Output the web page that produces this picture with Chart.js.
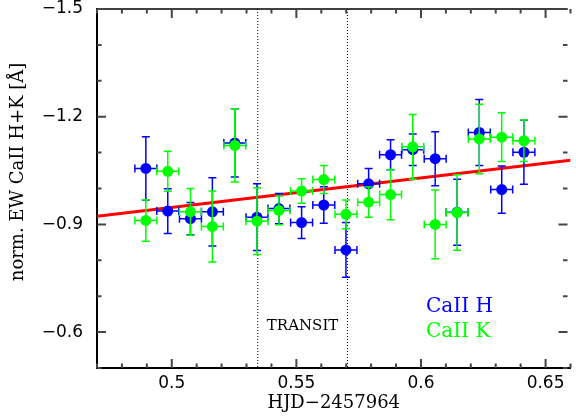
<!DOCTYPE html>
<html>
<head>
<meta charset="utf-8">
<script src="https://cdn.jsdelivr.net/npm/chart.js@4"></script>
<style>
  html, body { margin: 0; padding: 0; background: #fff; }
</style>
</head>
<body>
<canvas id="chart" width="576" height="418"></canvas>
<script>
// observation times (HJD - 2457964), shared by both lines
const times = [0.4896, 0.4984, 0.5075, 0.5163, 0.5253, 0.5342, 0.5430, 0.5521, 0.5610,
               0.5699, 0.5790, 0.5878, 0.5967, 0.6057, 0.6145, 0.6234, 0.6324, 0.6413];
const timeErr = 0.0044;

// CaII H
const ewH  = [-1.056, -0.937, -0.916, -0.935, -1.127, -0.920, -0.944, -0.905, -0.954,
              -0.829, -1.013, -1.094, -1.108, -1.083, -0.934, -1.156, -0.997, -1.101];
const errH = [0.088, 0.062, 0.045, 0.095, 0.095, 0.093, 0.042, 0.044, 0.051,
              0.076, 0.043, 0.042, 0.044, 0.075, 0.092, 0.092, 0.066, 0.089];

// CaII K
const ewK  = [-0.911, -1.048, -0.935, -0.894, -1.120, -0.909, -0.939, -0.993, -1.025,
              -0.928, -0.962, -0.983, -1.116, -0.900, -0.933, -1.138, -1.143, -1.133];
const errK = [0.058, 0.056, 0.065, 0.099, 0.102, 0.093, 0.040, 0.034, 0.039,
              0.040, 0.042, 0.070, 0.090, 0.096, 0.105, 0.097, 0.068, 0.058];

// linear fit
const fitX = [0.47, 0.66];
const fitY = [-0.923, -1.079];

// transit window
const transitStart = 0.5345;
const transitEnd = 0.5705;

const xRange = [0.47, 0.66];
const yRange = [-1.5, -0.5];

const toPoints = (xs, ys) => xs.map((x, i) => ({ x: x, y: ys[i] }));
const minus = v => (v < 0 ? '\u2212' : '') + Math.abs(v).toFixed(1);

// error bars are drawn just before each dataset's points
const errorBars = {
    id: 'errorBars',
    beforeDatasetDraw(chart, args) {
        const ds = chart.data.datasets[args.index];
        if (!ds.yErr) return;
        const ctx = chart.ctx;
        const sx = chart.scales.x, sy = chart.scales.y;
        const cap = 4;
        ctx.save();
        ctx.strokeStyle = ds.backgroundColor;
        ctx.lineWidth = 1.5;
        ds.data.forEach((p, i) => {
            const px = sx.getPixelForValue(p.x);
            const py = sy.getPixelForValue(p.y);
            const y1 = sy.getPixelForValue(p.y - ds.yErr[i]);
            const y2 = sy.getPixelForValue(p.y + ds.yErr[i]);
            const x1 = sx.getPixelForValue(p.x - ds.xErr);
            const x2 = sx.getPixelForValue(p.x + ds.xErr);
            ctx.beginPath();
            ctx.moveTo(px, y1); ctx.lineTo(px, y2);
            ctx.moveTo(px - cap, y1); ctx.lineTo(px + cap, y1);
            ctx.moveTo(px - cap, y2); ctx.lineTo(px + cap, y2);
            ctx.moveTo(x1, py); ctx.lineTo(x2, py);
            ctx.moveTo(x1, py - cap); ctx.lineTo(x1, py + cap);
            ctx.moveTo(x2, py - cap); ctx.lineTo(x2, py + cap);
            ctx.stroke();
        });
        ctx.restore();
    }
};

// inside tick marks on all sides, top frame line, free text
const frameTicks = {
    id: 'frameTicks',
    afterDraw(chart) {
        const ctx = chart.ctx;
        const a = chart.chartArea;
        const sx = chart.scales.x, sy = chart.scales.y;
        const rightEdge = a.right - 3;
        ctx.save();
        ctx.strokeStyle = '#000';
        ctx.lineWidth = 1.5;
        ctx.beginPath();
        ctx.moveTo(a.left, a.top);
        ctx.lineTo(rightEdge, a.top);
        ctx.stroke();

        ctx.strokeStyle = '#444';
        ctx.lineWidth = 2;
        ctx.beginPath();
        // x ticks every 0.01, long ones every 0.05
        for (let k = 47; k <= 66; k++) {
            const px = sx.getPixelForValue(k / 100);
            const len = k % 5 === 0 ? 9 : 4.5;
            ctx.moveTo(px, a.bottom);
            ctx.lineTo(px, a.bottom - len);
            ctx.moveTo(px, a.top);
            ctx.lineTo(px, a.top + len);
        }
        // y ticks every 0.1, long ones every 0.3
        for (let k = -15; k <= -5; k++) {
            const py = sy.getPixelForValue(k / 10);
            const len = k % 3 === 0 ? 9 : 4.5;
            ctx.moveTo(a.left, py);
            ctx.lineTo(a.left + len, py);
            ctx.moveTo(rightEdge, py);
            ctx.lineTo(rightEdge - len, py);
        }
        ctx.stroke();

        // y axis title
        ctx.fillStyle = '#000';
        ctx.font = '18px "DejaVu Serif"';
        ctx.textAlign = 'center';
        ctx.textBaseline = 'middle';
        ctx.save();
        ctx.translate(18, 172);
        ctx.rotate(-Math.PI / 2);
        ctx.fillText('norm. EW CaII H+K [\u00c5]', 0, 0);
        ctx.restore();

        // transit label
        ctx.font = '15px "DejaVu Serif"';
        const tx = (sx.getPixelForValue(transitStart) + sx.getPixelForValue(transitEnd)) / 2;
        ctx.fillText('TRANSIT', tx, 326);

        // legend text
        ctx.font = '20px "DejaVu Serif"';
        ctx.textAlign = 'left';
        ctx.fillStyle = chart.data.datasets[0].backgroundColor;
        ctx.fillText(chart.data.datasets[0].label, 426, 307);
        ctx.fillStyle = chart.data.datasets[1].backgroundColor;
        ctx.fillText(chart.data.datasets[1].label, 426, 332);
        ctx.restore();
    }
};

const dotted = x => ({
    data: [{ x: x, y: yRange[0] }, { x: x, y: yRange[1] }],
    showLine: true,
    borderColor: '#000',
    borderWidth: 1,
    borderDash: [1, 2],
    pointRadius: 0,
    order: 4
});

// hidden grid: only used to reserve the gap between axis and labels
const spacerGrid = len => ({
    display: true,
    drawOnChartArea: false,
    drawTicks: true,
    tickLength: len,
    color: 'rgba(0,0,0,0)'
});

new Chart(document.getElementById('chart'), {
    type: 'scatter',
    data: {
        datasets: [
            {
                label: 'CaII H',
                data: toPoints(times, ewH),
                yErr: errH,
                xErr: timeErr,
                backgroundColor: '#0000ff',
                borderWidth: 0,
                pointRadius: 5.5,
                order: 1
            },
            {
                label: 'CaII K',
                data: toPoints(times, ewK),
                yErr: errK,
                xErr: timeErr,
                backgroundColor: '#00ff00',
                borderWidth: 0,
                pointRadius: 5.5,
                order: 0
            },
            {
                label: 'fit',
                data: toPoints(fitX, fitY),
                showLine: true,
                borderColor: '#ff0000',
                borderWidth: 3,
                pointRadius: 0,
                order: 2
            },
            dotted(transitStart),
            dotted(transitEnd)
        ]
    },
    options: {
        responsive: false,
        animation: false,
        layout: { padding: { top: 9, right: 0, left: 0, bottom: 0 } },
        plugins: {
            legend: { display: false },
            tooltip: { enabled: false }
        },
        scales: {
            x: {
                type: 'linear',
                min: xRange[0],
                max: xRange[1],
                afterFit: s => { s.height = 50; },
                grid: spacerGrid(7),
                border: { display: true, color: '#000', width: 2 },
                ticks: {
                    stepSize: 0.01,
                    autoSkip: false,
                    maxRotation: 0,
                    padding: 0,
                    color: '#000',
                    font: { family: '"DejaVu Sans"', size: 17, lineHeight: 1 },
                    callback: v => Math.round(v * 100) % 5 === 0 ? String(parseFloat(v.toFixed(2))) : ''
                },
                title: {
                    display: true,
                    text: 'HJD\u22122457964',
                    color: '#000',
                    font: { family: '"DejaVu Serif"', size: 18 },
                    padding: { top: 0, bottom: 4 }
                }
            },
            y: {
                type: 'linear',
                reverse: true,
                min: yRange[0],
                max: yRange[1],
                afterFit: s => { s.width = 97; },
                grid: spacerGrid(14),
                border: { display: true, color: '#000', width: 2 },
                ticks: {
                    stepSize: 0.1,
                    autoSkip: false,
                    padding: 0,
                    color: '#000',
                    font: { family: '"DejaVu Sans"', size: 17, lineHeight: 1 },
                    callback: v => Math.round(v * 10) % 3 === 0 ? minus(v) : ''
                }
            }
        }
    },
    plugins: [errorBars, frameTicks]
});
</script>
</body>
</html>
